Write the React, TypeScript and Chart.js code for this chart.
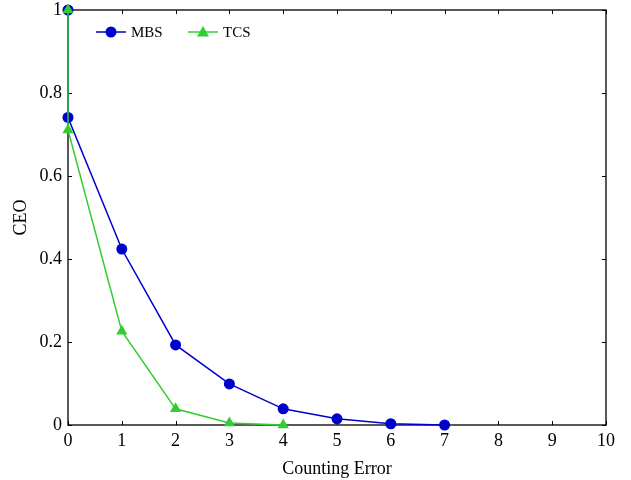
import React, { useEffect, useRef } from "react";
import { Chart, registerables } from "chart.js";

Chart.register(...registerables);

const mbsX = [0, 0, 1, 2, 3, 4, 5, 6, 7];
const mbsY = [1, 0.741, 0.424, 0.193, 0.099, 0.039, 0.015, 0.003, 0];
const tcsX = [0, 0, 1, 2, 3, 4];
const tcsY = [1, 0.711, 0.226, 0.039, 0.005, 0];
const xTicks = [0, 1, 2, 3, 4, 5, 6, 7, 8, 9, 10];
const yTicks = [0, 0.2, 0.4, 0.6, 0.8, 1];
const xTitle = "Counting Error";
const yTitle = "CEO";
const labels = ["MBS", "TCS"];

const BLUE = "#0000CC";
const GREEN = "#33CC33";
const FONT = "'Liberation Serif', 'DejaVu Serif', serif";

export default function App() {
  const ref = useRef<HTMLCanvasElement>(null);
  useEffect(() => {
    document.body.style.margin = "0";
    const frame = {
      id: "frame",
      beforeDatasetsDraw(chart: any) {
        const { ctx, chartArea: a, scales } = chart;
        ctx.save();
        ctx.strokeStyle = "#000";
        ctx.lineWidth = 1;
        const tl = 4;
        ctx.beginPath();
        for (const v of xTicks) {
          const x = Math.round(scales.x.getPixelForValue(v)) + 0.5;
          ctx.moveTo(x, a.bottom);
          ctx.lineTo(x, a.bottom - tl);
          ctx.moveTo(x, a.top);
          ctx.lineTo(x, a.top + tl);
        }
        for (const v of yTicks) {
          const y = Math.round(scales.y.getPixelForValue(v)) + 0.5;
          ctx.moveTo(a.left, y);
          ctx.lineTo(a.left + tl, y);
          ctx.moveTo(a.right, y);
          ctx.lineTo(a.right - tl, y);
        }
        ctx.stroke();
        ctx.lineWidth = 1.3;
        ctx.strokeRect(a.left, a.top, a.right - a.left, a.bottom - a.top);
        ctx.restore();
      },
      afterDraw(chart: any) {
        const { ctx } = chart;
        ctx.save();
        const items = [
          { label: labels[0], color: BLUE, style: "circle", x0: 96 },
          { label: labels[1], color: GREEN, style: "triangle", x0: 188 },
        ];
        const y = 32;
        for (const it of items) {
          ctx.strokeStyle = it.color;
          ctx.lineWidth = 1.5;
          ctx.beginPath();
          ctx.moveTo(it.x0, y);
          ctx.lineTo(it.x0 + 30, y);
          ctx.stroke();
          ctx.fillStyle = it.color;
          ctx.beginPath();
          if (it.style === "circle") {
            ctx.arc(it.x0 + 15, y, 5.5, 0, Math.PI * 2);
          } else {
            const cx = it.x0 + 15;
            ctx.moveTo(cx, y - 6);
            ctx.lineTo(cx + 6, y + 4.5);
            ctx.lineTo(cx - 6, y + 4.5);
            ctx.closePath();
          }
          ctx.fill();
          ctx.fillStyle = "#000";
          ctx.font = `15px ${FONT}`;
          ctx.textAlign = "left";
          ctx.textBaseline = "middle";
          ctx.fillText(it.label, it.x0 + 35, y + 1);
        }
        ctx.restore();
      },
    };

    const chart = new Chart(ref.current!, {
      type: "scatter",
      data: {
        datasets: [
          {
            label: labels[0],
            data: mbsX.map((x, i) => ({ x, y: mbsY[i] })),
            borderColor: BLUE,
            backgroundColor: BLUE,
            showLine: true,
            borderWidth: 1.5,
            pointStyle: "circle",
            pointRadius: 5.5,
            pointBorderWidth: 0,
            order: 2,
            clip: false as any,
          },
          {
            label: labels[1],
            data: tcsX.map((x, i) => ({ x, y: tcsY[i] })),
            borderColor: GREEN,
            backgroundColor: GREEN,
            showLine: true,
            borderWidth: 1.5,
            pointStyle: "triangle",
            pointRadius: 6.5,
            pointBorderWidth: 0,
            order: 1,
            clip: false as any,
          },
        ],
      },
      options: {
        animation: false,
        responsive: false,
        layout: { padding: { left: 0, top: 10, right: 25, bottom: 0 } },
        plugins: { legend: { display: false }, tooltip: { enabled: false } },
        scales: {
          x: {
            type: "linear",
            min: 0,
            max: 10,
            afterBuildTicks: (s: any) => {
              s.ticks = xTicks.map((v) => ({ value: v }));
            },
            afterFit: (s: any) => {
              s.height = 55;
              s.paddingLeft = 0;
              s.paddingRight = 0;
            },
            grid: { display: false, drawTicks: false },
            border: { display: false },
            ticks: {
              padding: 5,
              color: "#000",
              font: { family: FONT, size: 18 },
              maxRotation: 0,
              callback: (v: any) => String(v),
            },
            title: {
              display: true,
              text: xTitle,
              color: "#000",
              font: { family: FONT, size: 18 },
              padding: { top: 8, bottom: 0 },
            },
          },
          y: {
            type: "linear",
            min: 0,
            max: 1,
            afterBuildTicks: (s: any) => {
              s.ticks = yTicks.map((v) => ({ value: v }));
            },
            afterFit: (s: any) => {
              s.width = 68;
              s.paddingTop = 0;
              s.paddingBottom = 0;
            },
            grid: { display: false, drawTicks: false },
            border: { display: false },
            ticks: {
              padding: 6,
              color: "#000",
              font: { family: FONT, size: 18 },
              callback: (v: any) => String(Math.round(v * 10) / 10),
            },
            title: {
              display: true,
              text: yTitle,
              color: "#000",
              font: { family: FONT, size: 18 },
              padding: { top: 10, bottom: 0 },
            },
          },
        },
      } as any,
      plugins: [frame],
    });
    return () => chart.destroy();
  }, []);
  return (
    <div style={{ width: 631, height: 480 }}>
      <canvas ref={ref} width={631} height={480} style={{ display: "block" }} />
    </div>
  );
}
